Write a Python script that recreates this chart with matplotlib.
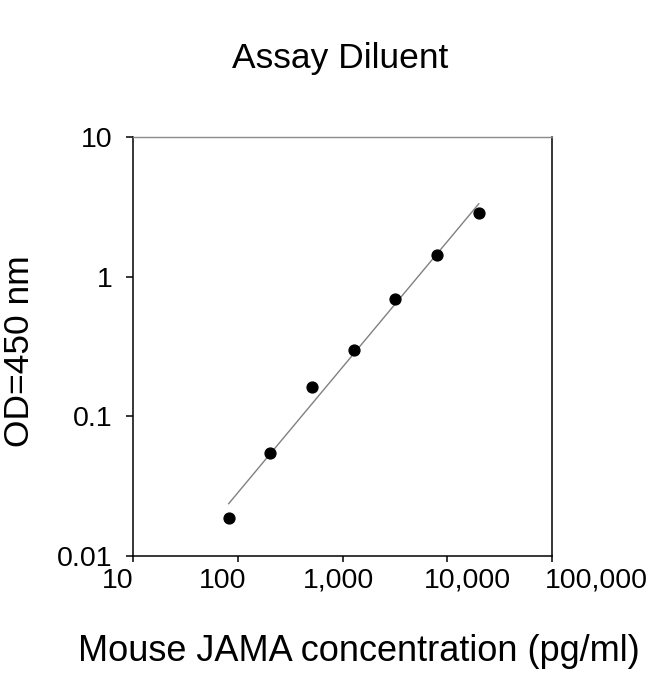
import matplotlib
matplotlib.use('Agg')
import matplotlib.pyplot as plt
import matplotlib.transforms as mtransforms
from matplotlib.ticker import NullLocator
import numpy as np

# standard curve, 2.5-fold dilutions
conc = [81.92, 204.8, 512, 1280, 3200, 8000, 20000]
od = [0.0186, 0.0548, 0.161, 0.298, 0.692, 1.42, 2.86]

x_ticks = [10, 100, 1000, 10000, 100000]
x_tick_labels = ['10', '100', '1,000', '10,000', '100,000']
y_ticks = [0.01, 0.1, 1, 10]
y_tick_labels = ['0.01', '0.1', '1', '10']

title = 'Assay Diluent'
x_title = 'Mouse JAMA concentration (pg/ml)'
y_title = 'OD=450 nm'

plt.rcParams['font.family'] = ['Liberation Sans', 'DejaVu Sans']

W, H = 650, 674
fig = plt.figure(figsize=(W / 100, H / 100), dpi=100)
ax = fig.add_axes([133 / W, 1 - 556 / H, 419 / W, 419 / H])
ax.set_xscale('log')
ax.set_yscale('log')
ax.set_xlim(10, 100000)
ax.set_ylim(0.01, 10)

# log-log regression line through the standards
slope, icpt = np.polyfit(np.log10(conc), np.log10(od), 1)
xf = np.array([min(conc), max(conc)])
ax.plot(xf, 10 ** (icpt + slope * np.log10(xf)), color='#808080', lw=1.0, zorder=2)
ax.plot(conc, od, 'o', color='black', markersize=7.8, zorder=3)

ax.set_xticks(x_ticks, x_tick_labels)
ax.set_yticks(y_ticks, y_tick_labels)
ax.xaxis.set_minor_locator(NullLocator())
ax.yaxis.set_minor_locator(NullLocator())
ax.tick_params(axis='x', direction='out', length=4, width=1.1, labelsize=20.5, pad=4.5)
ax.tick_params(axis='y', direction='out', length=5, width=1.1, labelsize=20.5, pad=10)

# x tick labels in the original sit a bit off their ticks
x_label_shift = [-15, -15, -4, 20, 44]
for lab, dx in zip(ax.get_xticklabels(), x_label_shift):
    off = mtransforms.ScaledTranslation(dx / 100, 0, fig.dpi_scale_trans)
    lab.set_transform(lab.get_transform() + off)

for s in ['left', 'bottom', 'right']:
    ax.spines[s].set_linewidth(1.1)
    ax.spines[s].set_color('black')
ax.spines['top'].set_linewidth(1.0)
ax.spines['top'].set_color('#8a8a8a')

fig.text(340.5 / W, 1 - 68 / H, title, ha='center', va='baseline', fontsize=25.5)
fig.text(359 / W, 1 - 661 / H, x_title, ha='center', va='baseline', fontsize=26)
fig.text(20 / W, 1 - 351 / H, y_title, ha='center', va='center', rotation=90, fontsize=25.5)

fig.savefig('out.png', dpi=100)
